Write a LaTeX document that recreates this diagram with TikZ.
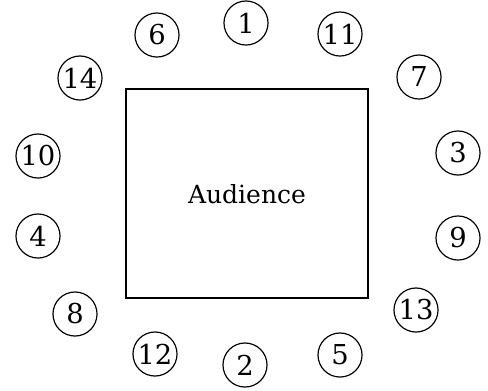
\documentclass[tikz,border=0pt]{standalone}
\usepackage{fontspec}
\setmainfont{DejaVu Serif}
\usepackage{tikz}

\begin{document}
\begin{tikzpicture}[x=0.42pt,y=-0.42pt,line width=0.5pt]
  \tikzset{seat/.style={circle,draw,minimum size=18.5pt,inner sep=0pt,font=\fontsize{11.5}{13}\selectfont}}
  \useasboundingbox (0,0) rectangle (488,390);

  % ================= audience block =================
  \draw (126,89) rectangle (368,298);
  \node[font=\fontsize{10.5}{12}\selectfont] (aud) at (247,194) {Audience};

  % ================= seats around the block =================
  \foreach \n/\x/\y in {1/246/23, 6/157/35, 11/340/34, 14/80/78, 7/419/77,
                        10/38/156, 3/458/153, 4/38/236, 9/458/238,
                        8/75/314, 13/416/310, 12/155/354, 2/245/365, 5/340/355} {
    \node[seat] (s\n) at (\x,\y) {\n};
  }

\end{tikzpicture}
\end{document}
